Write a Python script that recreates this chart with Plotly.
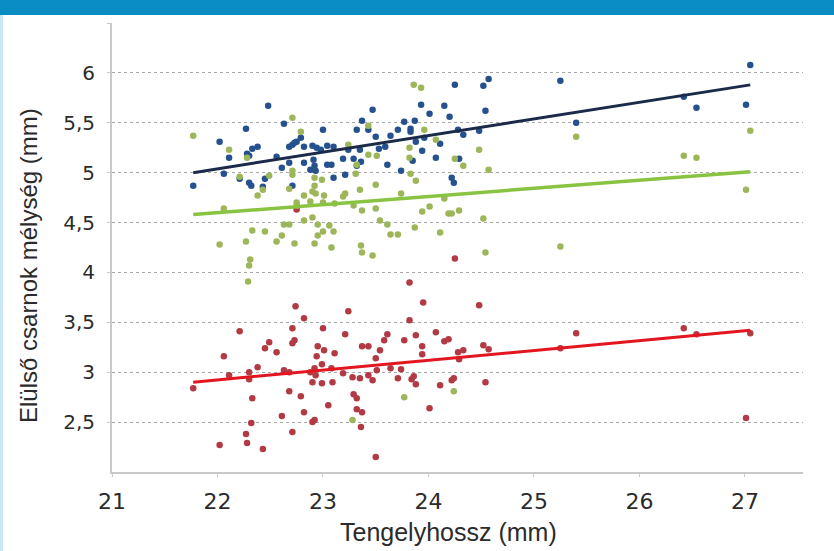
import plotly.graph_objects as go

# ---- data ----
blue_x = [21.77, 22.02, 22.11, 22.06, 22.27, 22.48, 22.28, 22.33, 22.38, 22.30, 22.21, 22.30, 22.32,
          22.43, 22.45, 22.56, 22.61, 22.63, 22.68, 22.71, 22.73, 22.75, 22.79, 22.68, 22.71, 22.82,
          22.82, 22.90, 22.94, 22.98, 23.04, 22.88, 22.92, 22.93, 22.91, 23.00, 23.04, 23.10, 23.08,
          23.10, 23.21, 23.19, 23.24, 23.29, 23.35, 23.32, 23.37, 23.43, 23.47, 23.36, 23.32, 23.50,
          23.53, 23.59, 23.61, 23.64, 23.71, 23.77, 23.83, 23.83, 23.87, 23.88, 23.93, 23.96, 23.94,
          23.85, 23.74, 24.01, 24.11, 24.07, 24.15, 24.20, 24.25, 24.28, 24.33, 24.29, 24.22, 24.24,
          24.48, 24.54, 24.52, 24.57, 25.25, 25.40, 26.42, 26.54, 27.01, 27.05]
blue_y = [4.87, 5.31, 5.15, 4.99, 5.44, 5.67, 5.19, 5.24, 5.26, 5.17, 4.94, 4.90, 4.87,
          4.86, 4.94, 5.16, 5.05, 5.49, 5.26, 5.28, 5.30, 5.31, 5.35, 5.10, 4.87, 5.26,
          5.10, 5.27, 5.25, 5.23, 5.27, 5.03, 5.07, 5.02, 5.13, 5.43, 5.08, 5.26, 5.08,
          4.95, 4.98, 5.14, 5.23, 5.14, 5.23, 5.43, 5.52, 5.43, 5.63, 5.11, 5.07, 5.36,
          5.24, 5.26, 5.08, 5.37, 5.43, 5.51, 5.44, 5.41, 5.52, 5.31, 5.68, 5.35, 5.22,
          5.12, 5.02, 5.59, 5.29, 5.15, 5.67, 5.56, 5.88, 5.43, 5.38, 5.14, 4.95, 4.90,
          5.42, 5.62, 5.87, 5.94, 5.92, 5.50, 5.76, 5.65, 5.68, 6.08]

green_x = [21.77, 22.11, 22.06, 22.02, 22.21, 22.28, 22.38, 22.43, 22.49, 22.33, 22.27, 22.31, 22.30,
           22.45, 22.71, 22.79, 22.71, 22.71, 22.68, 22.75, 22.75, 22.82, 22.92, 22.99, 22.92, 22.90,
           22.93, 22.88, 23.01, 23.00, 22.63, 22.68, 22.56, 22.61, 22.73, 22.82, 22.90, 22.95, 23.00,
           22.95, 22.92, 22.29, 23.86, 23.93, 23.43, 23.24, 23.43, 23.51, 23.32, 23.31, 23.35, 23.50,
           23.21, 23.19, 23.11, 23.29, 23.37, 23.50, 23.54, 23.61, 23.64, 23.71, 23.36, 23.37, 23.47,
           23.08, 23.10, 23.06, 23.74, 23.82, 23.82, 23.83, 23.88, 23.96, 24.07, 23.94, 24.01, 23.87,
           24.11, 24.15, 24.19, 24.22, 24.29, 24.25, 24.33, 24.48, 24.57, 24.52, 24.54, 23.28, 23.77,
           24.24, 25.25, 25.40, 26.42, 26.54, 27.01, 27.05]
green_y = [5.37, 5.23, 4.64, 4.28, 4.96, 5.15, 4.77, 4.83, 4.97, 4.42, 4.31, 4.13, 4.07,
           4.41, 5.55, 5.41, 5.02, 4.98, 4.84, 4.70, 4.67, 4.77, 4.95, 4.93, 4.87, 4.81,
           4.79, 4.71, 4.77, 4.70, 4.48, 4.48, 4.31, 4.37, 4.29, 4.52, 4.55, 4.48, 4.41,
           4.37, 4.29, 3.91, 5.88, 5.85, 5.47, 5.28, 5.18, 5.17, 5.08, 4.99, 4.83, 4.88,
           4.79, 4.76, 4.69, 4.67, 4.62, 4.64, 4.52, 4.48, 4.38, 4.38, 4.27, 4.20, 4.17,
           4.25, 4.41, 4.47, 4.79, 5.25, 5.15, 4.99, 4.92, 5.43, 5.33, 4.61, 4.66, 4.45,
           4.40, 4.74, 4.59, 4.59, 4.62, 5.14, 5.07, 5.23, 5.03, 4.54, 4.20, 2.52, 2.75,
           2.81, 4.26, 5.36, 5.17, 5.15, 4.83, 5.42]

red_x = [21.77, 22.06, 22.02, 22.11, 22.21, 22.30, 22.30, 22.33, 22.32, 22.27, 22.28, 22.43, 22.38,
         22.45, 22.49, 22.56, 22.61, 22.63, 22.68, 22.68, 22.71, 22.71, 22.71, 22.73, 22.74, 22.82,
         22.79, 22.82, 22.90, 22.92, 22.88, 22.92, 22.93, 22.90, 22.95, 22.94, 23.00, 23.01, 22.99,
         22.99, 23.05, 23.11, 23.08, 23.09, 23.19, 23.21, 23.24, 23.28, 23.35, 23.37, 23.43, 23.43,
         23.47, 23.51, 23.50, 23.54, 23.58, 23.61, 23.64, 23.29, 23.32, 23.32, 23.37, 23.36, 23.50,
         23.71, 23.74, 23.77, 23.82, 23.82, 23.84, 23.86, 23.88, 23.88, 23.94, 23.94, 23.95, 24.01,
         24.07, 24.11, 24.15, 24.19, 24.22, 24.24, 24.28, 24.33, 24.29, 24.48, 24.52, 24.57, 24.54,
         24.25, 22.75, 25.25, 25.40, 26.42, 26.54, 27.05, 27.01]
red_y = [2.84, 3.16, 2.27, 2.97, 3.41, 3.00, 2.93, 2.74, 2.49, 2.38, 2.29, 2.23, 3.05,
         3.24, 3.30, 3.20, 2.56, 3.02, 3.00, 2.81, 2.40, 3.44, 3.29, 3.32, 3.66, 3.54,
         2.76, 2.60, 2.50, 2.52, 3.00, 3.04, 2.97, 2.90, 3.26, 3.16, 3.44, 3.22, 3.08,
         2.89, 2.67, 3.19, 3.04, 2.90, 2.99, 3.38, 3.61, 2.95, 2.94, 3.26, 3.26, 2.97,
         2.92, 3.02, 3.14, 3.22, 3.32, 3.38, 3.04, 2.78, 2.74, 2.63, 2.60, 2.45, 2.15,
         2.94, 3.03, 3.32, 3.52, 3.90, 2.93, 2.96, 2.88, 3.37, 3.18, 3.26, 3.70, 2.64,
         3.40, 2.87, 3.31, 3.33, 2.92, 2.94, 3.20, 3.22, 3.13, 3.67, 3.27, 3.23, 2.90,
         4.14, 4.63, 3.24, 3.39, 3.44, 3.38, 3.39, 2.54]

trend_x = [21.77, 27.05]
blue_trend = [5.00, 5.88]
green_trend = [4.58, 5.01]
red_trend = [2.90, 3.42]

y_ticks = [2.5, 3, 3.5, 4, 4.5, 5, 5.5, 6, 6.5]
y_ticktext = ["2,5", "3", "3,5", "4", "4,5", "5", "5,5", "6", ""]
x_ticks = [21, 22, 23, 24, 25, 26, 27]

# ---- figure ----
fig = go.Figure()
ms = 6.5
fig.add_trace(go.Scatter(x=red_x, y=red_y, mode="markers",
                         marker=dict(size=ms, color="#b23a45"), showlegend=False))
fig.add_trace(go.Scatter(x=blue_x, y=blue_y, mode="markers",
                         marker=dict(size=ms, color="#25518f"), showlegend=False))
fig.add_trace(go.Scatter(x=green_x, y=green_y, mode="markers",
                         marker=dict(size=ms, color="#9db65a"), showlegend=False))
fig.add_trace(go.Scatter(x=trend_x, y=blue_trend, mode="lines",
                         line=dict(color="#1b2a48", width=3), showlegend=False))
fig.add_trace(go.Scatter(x=trend_x, y=green_trend, mode="lines",
                         line=dict(color="#88c441", width=3.5), showlegend=False))
fig.add_trace(go.Scatter(x=trend_x, y=red_trend, mode="lines",
                         line=dict(color="#e3161f", width=3), showlegend=False))

W, H = 834, 551
ml, mr, mt, mb = 112, 31, 23, 79
pw, ph = W - ml - mr, H - mt - mb

def px_x(p):
    return (p - ml) / pw

def px_y(p):
    return 1 - (p - mt) / ph

fig.update_layout(
    width=W, height=H,
    margin=dict(l=ml, r=mr, t=mt, b=mb, pad=0),
    paper_bgcolor="white", plot_bgcolor="white",
    font=dict(family="Liberation Sans, Arial, sans-serif", color="#2b2b2b"),
    xaxis=dict(range=[21, 27.55], tickvals=x_ticks, showgrid=False, zeroline=False,
               showline=True, linecolor="#c9c9c9", linewidth=2,
               ticks="outside", ticklen=3, tickcolor="#c9c9c9", tickwidth=1,
               tickfont=dict(family="DejaVu Sans, sans-serif", size=22, color="#2b2b2b"),
               ticklabelstandoff=6),
    yaxis=dict(range=[2.0, 6.5], tickvals=y_ticks, ticktext=y_ticktext,
               showgrid=True, gridcolor="#a8a8a8", griddash="dot", gridwidth=1.2,
               zeroline=False, showline=True, linecolor="#c9c9c9", linewidth=2,
               ticks="outside", ticklen=3, tickcolor="#c9c9c9",
               tickfont=dict(family="DejaVu Sans, sans-serif", size=20, color="#2b2b2b"),
               ticklabelstandoff=8),
    shapes=[
        dict(type="rect", xref="paper", yref="paper",
             x0=px_x(0), x1=px_x(W), y0=px_y(15), y1=px_y(0),
             fillcolor="#098dc3", line=dict(width=0), layer="above"),
        dict(type="rect", xref="paper", yref="paper",
             x0=px_x(0), x1=px_x(3), y0=px_y(H), y1=px_y(15),
             fillcolor="#cbe7f4", line=dict(width=0), layer="above"),
    ],
    annotations=[
        dict(text="Tengelyhossz (mm)", xref="paper", yref="paper",
             x=px_x(448), y=px_y(532), xanchor="center", yanchor="middle",
             showarrow=False, font=dict(size=25, color="#2b2b2b")),
        dict(text="Elülső csarnok mélység (mm)", xref="paper", yref="paper",
             x=px_x(28), y=px_y(266), xanchor="center", yanchor="middle",
             textangle=-90, showarrow=False, font=dict(size=24, color="#2b2b2b")),
    ],
)

fig.write_html("out.html", config={"displayModeBar": False},
               post_script="document.body.style.margin='0';document.body.style.overflow='hidden';")
